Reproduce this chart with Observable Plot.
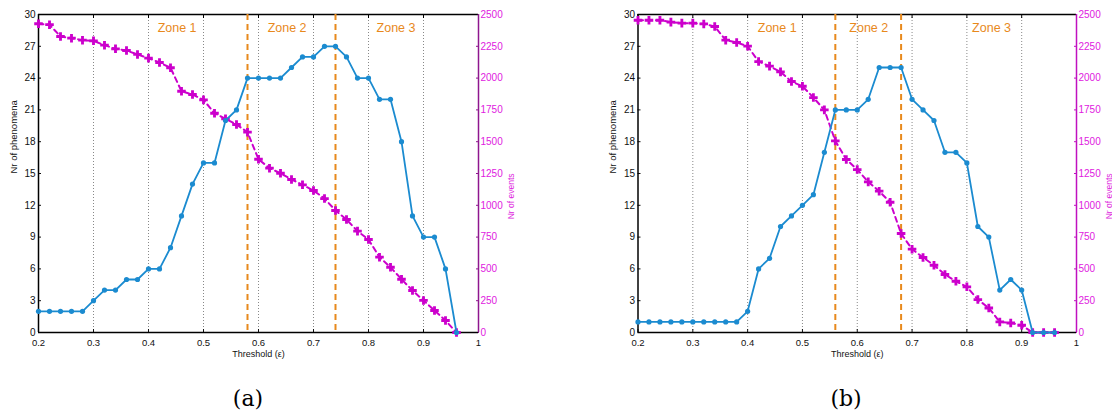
<!DOCTYPE html>
<html>
<head>
<meta charset="utf-8">
<script src="https://cdn.jsdelivr.net/npm/d3@7"></script>
<script src="https://cdn.jsdelivr.net/npm/@observablehq/plot@0.6"></script>
<style>
  body { margin: 0; background: #fff; width: 1112px; height: 420px; position: relative; overflow: hidden; font-family: "Liberation Sans", Arial, sans-serif; }
  .chart { position: absolute; top: 0; }
  .cap { position: absolute; top: 386px; font-family: "DejaVu Serif", "Liberation Serif", serif; font-size: 22px; transform: translateX(-50%); }
</style>
</head>
<body>
<div id="a" class="chart" style="left:0px"></div>
<div id="b" class="chart" style="left:556px"></div>
<div class="cap" style="left:248px">(a)</div>
<div class="cap" style="left:846px">(b)</div>
<script>
const thresholds = [0.20,0.22,0.24,0.26,0.28,0.30,0.32,0.34,0.36,0.38,0.40,0.42,0.44,0.46,0.48,0.50,0.52,0.54,0.56,0.58,0.60,0.62,0.64,0.66,0.68,0.70,0.72,0.74,0.76,0.78,0.80,0.82,0.84,0.86,0.88,0.90,0.92,0.94,0.96];

const phenomenaA = [2,2,2,2,2,3,4,4,5,5,6,6,8,11,14,16,16,20,21,24,24,24,24,25,26,26,27,27,26,24,24,22,22,18,11,9,9,6,0];
const eventsA = [2427,2420,2327,2314,2298,2293,2259,2230,2217,2186,2157,2123,2081,1897,1871,1829,1724,1680,1635,1575,1362,1292,1252,1203,1161,1116,1053,959,888,797,731,592,513,419,330,252,173,94,0];
const zonesA = [0.58, 0.74];
const zoneLabelXA = [0.452, 0.652, 0.85];

const phenomenaB = [1,1,1,1,1,1,1,1,1,1,2,6,7,10,11,12,13,17,21,21,21,22,25,25,25,22,21,20,17,17,16,10,9,4,5,4,0,0,0];
const eventsB = [2455,2455,2455,2440,2432,2432,2426,2406,2298,2280,2251,2130,2094,2049,1973,1936,1847,1750,1506,1360,1281,1184,1111,1024,778,655,590,529,456,403,359,259,193,83,75,57,0,0,0];
const zonesB = [0.56, 0.68];
const zoneLabelXB = [0.454, 0.621, 0.845];

const zoneNames = ["Zone 1", "Zone 2", "Zone 3"];
const xTicks = [0.2,0.3,0.4,0.5,0.6,0.7,0.8,0.9,1];
const gridX = [0.3,0.4,0.5,0.6,0.7,0.8,0.9];
const yTicks = [0,3,6,9,12,15,18,21,24,27,30];
const eventTicks = [0,250,500,750,1000,1250,1500,1750,2000,2250,2500];
const yMax = 30, eMax = 2500;

const BLUE = "#1b8bd0", MAG = "#cc00cc", ORANGE = "#e8891c";

function chart(phen, events, zones, zoneX, ml, mr, purple) {
  const rows = thresholds.map((t, i) => ({t, p: phen[i], e: events[i]}));
  const zl = zoneNames.map((n, i) => ({n, x: zoneX[i]}));
  return Plot.plot({
    width: 556, height: 370,
    marginLeft: ml, marginRight: mr, marginTop: 14, marginBottom: 38,
    style: {fontFamily: "Liberation Sans, Arial, sans-serif", fontSize: "10px", background: "white", overflow: "visible"},
    x: {domain: [0.2, 1]},
    y: {domain: [0, yMax]},
    marks: [
      Plot.ruleX(gridX, {stroke: "#888", strokeDasharray: "1,2", strokeWidth: 1}),
      Plot.axisX(xTicks, {anchor: "bottom", tickSize: -3, tickPadding: 9.5, tickFormat: d => d === 1 ? "1" : d3.format(".1f")(d), fontSize: 9.5, label: null, color: "#111"}),
      Plot.axisX(xTicks, {anchor: "top", tickSize: -3, tickFormat: () => "", label: null}),
      Plot.axisY(yTicks, {anchor: "left", tickSize: -3, tickPadding: 6, fontSize: 10, label: null, color: "#111"}),
      Plot.axisY(eventTicks.map(e => e * yMax / eMax), {anchor: "right", tickSize: -3, tickPadding: 5, tickFormat: d => String(Math.round(d * eMax / yMax)), fontSize: 10, label: null, color: "#e020e0", stroke: purple}),
      Plot.ruleY([yMax], {stroke: "#000", strokeWidth: 1.5}),
      Plot.ruleY([0], {stroke: "#000", strokeWidth: 1.5}),
      Plot.ruleX([0.2], {stroke: "#000", strokeWidth: 1.5}),
      Plot.ruleX([1], {stroke: purple, strokeWidth: 1.5}),
      Plot.ruleX(zones, {stroke: ORANGE, strokeWidth: 2, strokeDasharray: "6,4"}),
      Plot.text(zl, {x: "x", y: yMax, dy: 13, text: "n", fill: ORANGE, fontSize: 12.5}),
      Plot.line(rows, {x: "t", y: d => d.e * yMax / eMax, stroke: MAG, strokeWidth: 2, strokeDasharray: "5,4"}),
      Plot.dot(rows, {x: "t", y: d => d.e * yMax / eMax, symbol: "cross", fill: MAG, stroke: "none", r: 3.6}),
      Plot.line(rows, {x: "t", y: "p", stroke: BLUE, strokeWidth: 1.8}),
      Plot.dot(rows, {x: "t", y: "p", fill: BLUE, stroke: "none", r: 2.6}),
      Plot.text(["Threshold (\u03b5)"], {frameAnchor: "bottom", dy: 24, fontSize: 9, fill: "#111"}),
      Plot.text(["Nr of phenomena"], {frameAnchor: "left", dx: -25, rotate: -90, fontSize: 9.5, fill: "#111"}),
      Plot.text(["Nr of events"], {frameAnchor: "right", dx: 33, rotate: -90, fontSize: 8.5, fill: "#dd22dd"})
    ]
  });
}

document.getElementById("a").appendChild(chart(phenomenaA, eventsA, zonesA, zoneLabelXA, 38, 78, "#8e168e"));
document.getElementById("b").appendChild(chart(phenomenaB, eventsB, zonesB, zoneLabelXB, 81.5, 36, "#c010c0"));
</script>
</body>
</html>
